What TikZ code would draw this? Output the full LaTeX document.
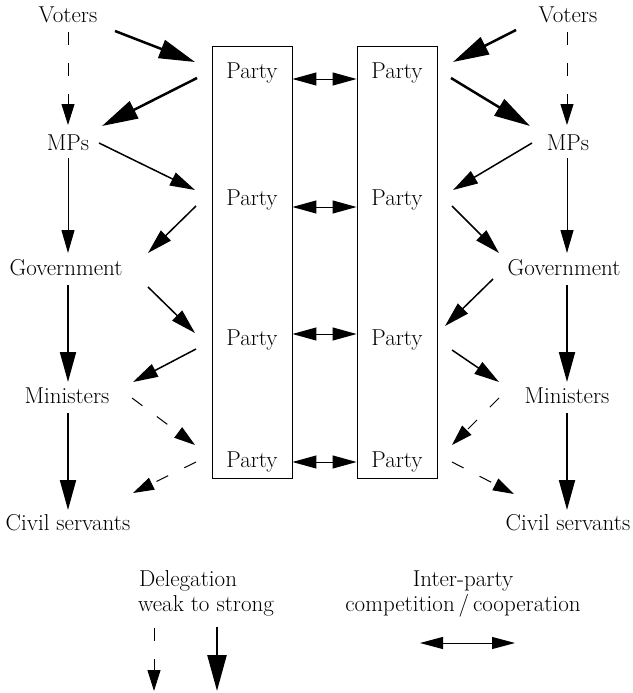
\documentclass[tikz,border=0pt]{standalone}
\usetikzlibrary{arrows.meta}
\newcommand\lblfont{\fontsize{23}{27}\selectfont}
\begin{document}
\begin{tikzpicture}[x=1pt,y=-1pt,
  lbl/.style={font=\lblfont, inner sep=0pt, anchor=base},
  partybox/.style={draw, line width=0.9pt, minimum width=80pt, minimum height=432pt, inner sep=0pt},
  strong/.style={line width=2.5pt, -{Triangle[length=36pt,width=19pt]}},
  firm/.style={line width=2pt, -{Triangle[length=30pt,width=16pt]}},
  medium/.style={line width=1.5pt, -{Triangle[length=25pt,width=14pt]}},
  thin/.style={line width=1pt, -{Triangle[length=23pt,width=13pt]}},
  weak/.style={line width=1pt, dash pattern=on 13pt off 18pt, -{Triangle[length=21pt,width=13pt]}},
  dbl/.style={line width=1pt, {Triangle[length=24pt,width=13pt]}-{Triangle[length=24pt,width=13pt]}},
]
\useasboundingbox (0,0) rectangle (632,693);

% the two party columns
\node[partybox] (boxL) at (252,262) {};
\node[partybox] (boxR) at (397,262) {};
\foreach \y [count=\i] in {78,205,345,467} {
  \node[lbl] (pL\i) at (252,\y) {Party};
  \node[lbl] (pR\i) at (397,\y) {Party};
}

% left chain
\node[lbl] (voL) at (68,23) {Voters};
\node[lbl] (mpL) at (68,150) {MPs};
\node[lbl] (goL) at (66,275) {Government};
\node[lbl] (miL) at (67,403) {Ministers};
\node[lbl] (csL) at (68,530) {Civil servants};

% right chain
\node[lbl] (voR) at (568,23) {Voters};
\node[lbl] (mpR) at (568,150) {MPs};
\node[lbl] (goR) at (564,275) {Government};
\node[lbl] (miR) at (567,403) {Ministers};
\node[lbl] (csR) at (568,530) {Civil servants};

% connector ends, left side
\path (68,32) coordinate (voL-d)   (68,125) coordinate (mpL-u)
      (115,31) coordinate (voL-r)  (195,62) coordinate (pL1-in)
      (197,78) coordinate (pL1-out) (102,126) coordinate (mpL-in)
      (99,143) coordinate (mpL-r)  (195,190) coordinate (pL2-in)
      (196,206) coordinate (pL2-out) (148,253) coordinate (goL-in)
      (68,158) coordinate (mpL-d)  (68,253) coordinate (goL-u)
      (148,287) coordinate (goL-r) (195,333) coordinate (pL3-in)
      (196,349) coordinate (pL3-out) (133,382) coordinate (miL-in)
      (68,285) coordinate (goL-d)  (68,382) coordinate (miL-u)
      (132,398) coordinate (miL-r) (195,445) coordinate (pL4-in)
      (196,462) coordinate (pL4-out) (133,493) coordinate (csL-in)
      (68,413) coordinate (miL-d)  (68,510) coordinate (csL-u);

% connector ends, right side
\path (567,32) coordinate (voR-d)   (567,125) coordinate (mpR-u)
      (516,30) coordinate (voR-l)  (453,62) coordinate (pR1-in)
      (451,78) coordinate (pR1-out) (530,126) coordinate (mpR-in)
      (532,143) coordinate (mpR-l) (453,190) coordinate (pR2-in)
      (452,206) coordinate (pR2-out) (499,253) coordinate (goR-in)
      (567,158) coordinate (mpR-d) (567,253) coordinate (goR-u)
      (493,279) coordinate (goR-l) (445,326) coordinate (pR3-in)
      (452,350) coordinate (pR3-out) (499,382) coordinate (miR-in)
      (567,285) coordinate (goR-d) (567,382) coordinate (miR-u)
      (499,398) coordinate (miR-l) (452,445) coordinate (pR4-in)
      (452,462) coordinate (pR4-out) (514,494) coordinate (csR-in)
      (567,413) coordinate (miR-d) (567,510) coordinate (csR-u);

% delegation, left
\draw[weak]   (voL-d) -- (mpL-u);
\draw[strong] (voL-r) -- (pL1-in);
\draw[strong] (pL1-out) -- (mpL-in);
\draw[medium] (mpL-r) -- (pL2-in);
\draw[medium] (pL2-out) -- (goL-in);
\draw[thin]   (mpL-d) -- (goL-u);
\draw[medium] (goL-r) -- (pL3-in);
\draw[medium] (pL3-out) -- (miL-in);
\draw[firm]   (goL-d) -- (miL-u);
\draw[weak]   (miL-r) -- (pL4-in);
\draw[weak]   (pL4-out) -- (csL-in);
\draw[firm]   (miL-d) -- (csL-u);

% delegation, right
\draw[weak]   (voR-d) -- (mpR-u);
\draw[strong] (voR-l) -- (pR1-in);
\draw[strong] (pR1-out) -- (mpR-in);
\draw[medium] (mpR-l) -- (pR2-in);
\draw[medium] (pR2-out) -- (goR-in);
\draw[thin]   (mpR-d) -- (goR-u);
\draw[medium] (goR-l) -- (pR3-in);
\draw[medium] (pR3-out) -- (miR-in);
\draw[firm]   (goR-d) -- (miR-u);
\draw[weak]   (miR-l) -- (pR4-in);
\draw[weak]   (pR4-out) -- (csR-in);
\draw[firm]   (miR-d) -- (csR-u);

% inter-party links
\foreach \y in {79,207,334,462}
  \draw[dbl] (boxL.east |- 0,\y) -- (boxR.west |- 0,\y);

% key
\node[lbl] (keyD1) at (188,586) {Delegation};
\node[lbl] (keyD2) at (206,611) {weak to strong};
\node[lbl] (keyI1) at (463,586) {Inter-party};
\node[lbl] (keyI2) at (463,611) {competition\,/\,cooperation};
\path (154,628) coordinate (kw-a) (154,691) coordinate (kw-b)
      (217,627) coordinate (ks-a) (217,691) coordinate (ks-b)
      (420,643) coordinate (kc-a) (515,643) coordinate (kc-b);
\draw[weak]   (kw-a) -- (kw-b);
\draw[strong] (ks-a) -- (ks-b);
\draw[line width=1pt, {Triangle[length=23pt,width=12pt]}-{Triangle[length=23pt,width=12pt]}] (kc-a) -- (kc-b);
\end{tikzpicture}
\end{document}
